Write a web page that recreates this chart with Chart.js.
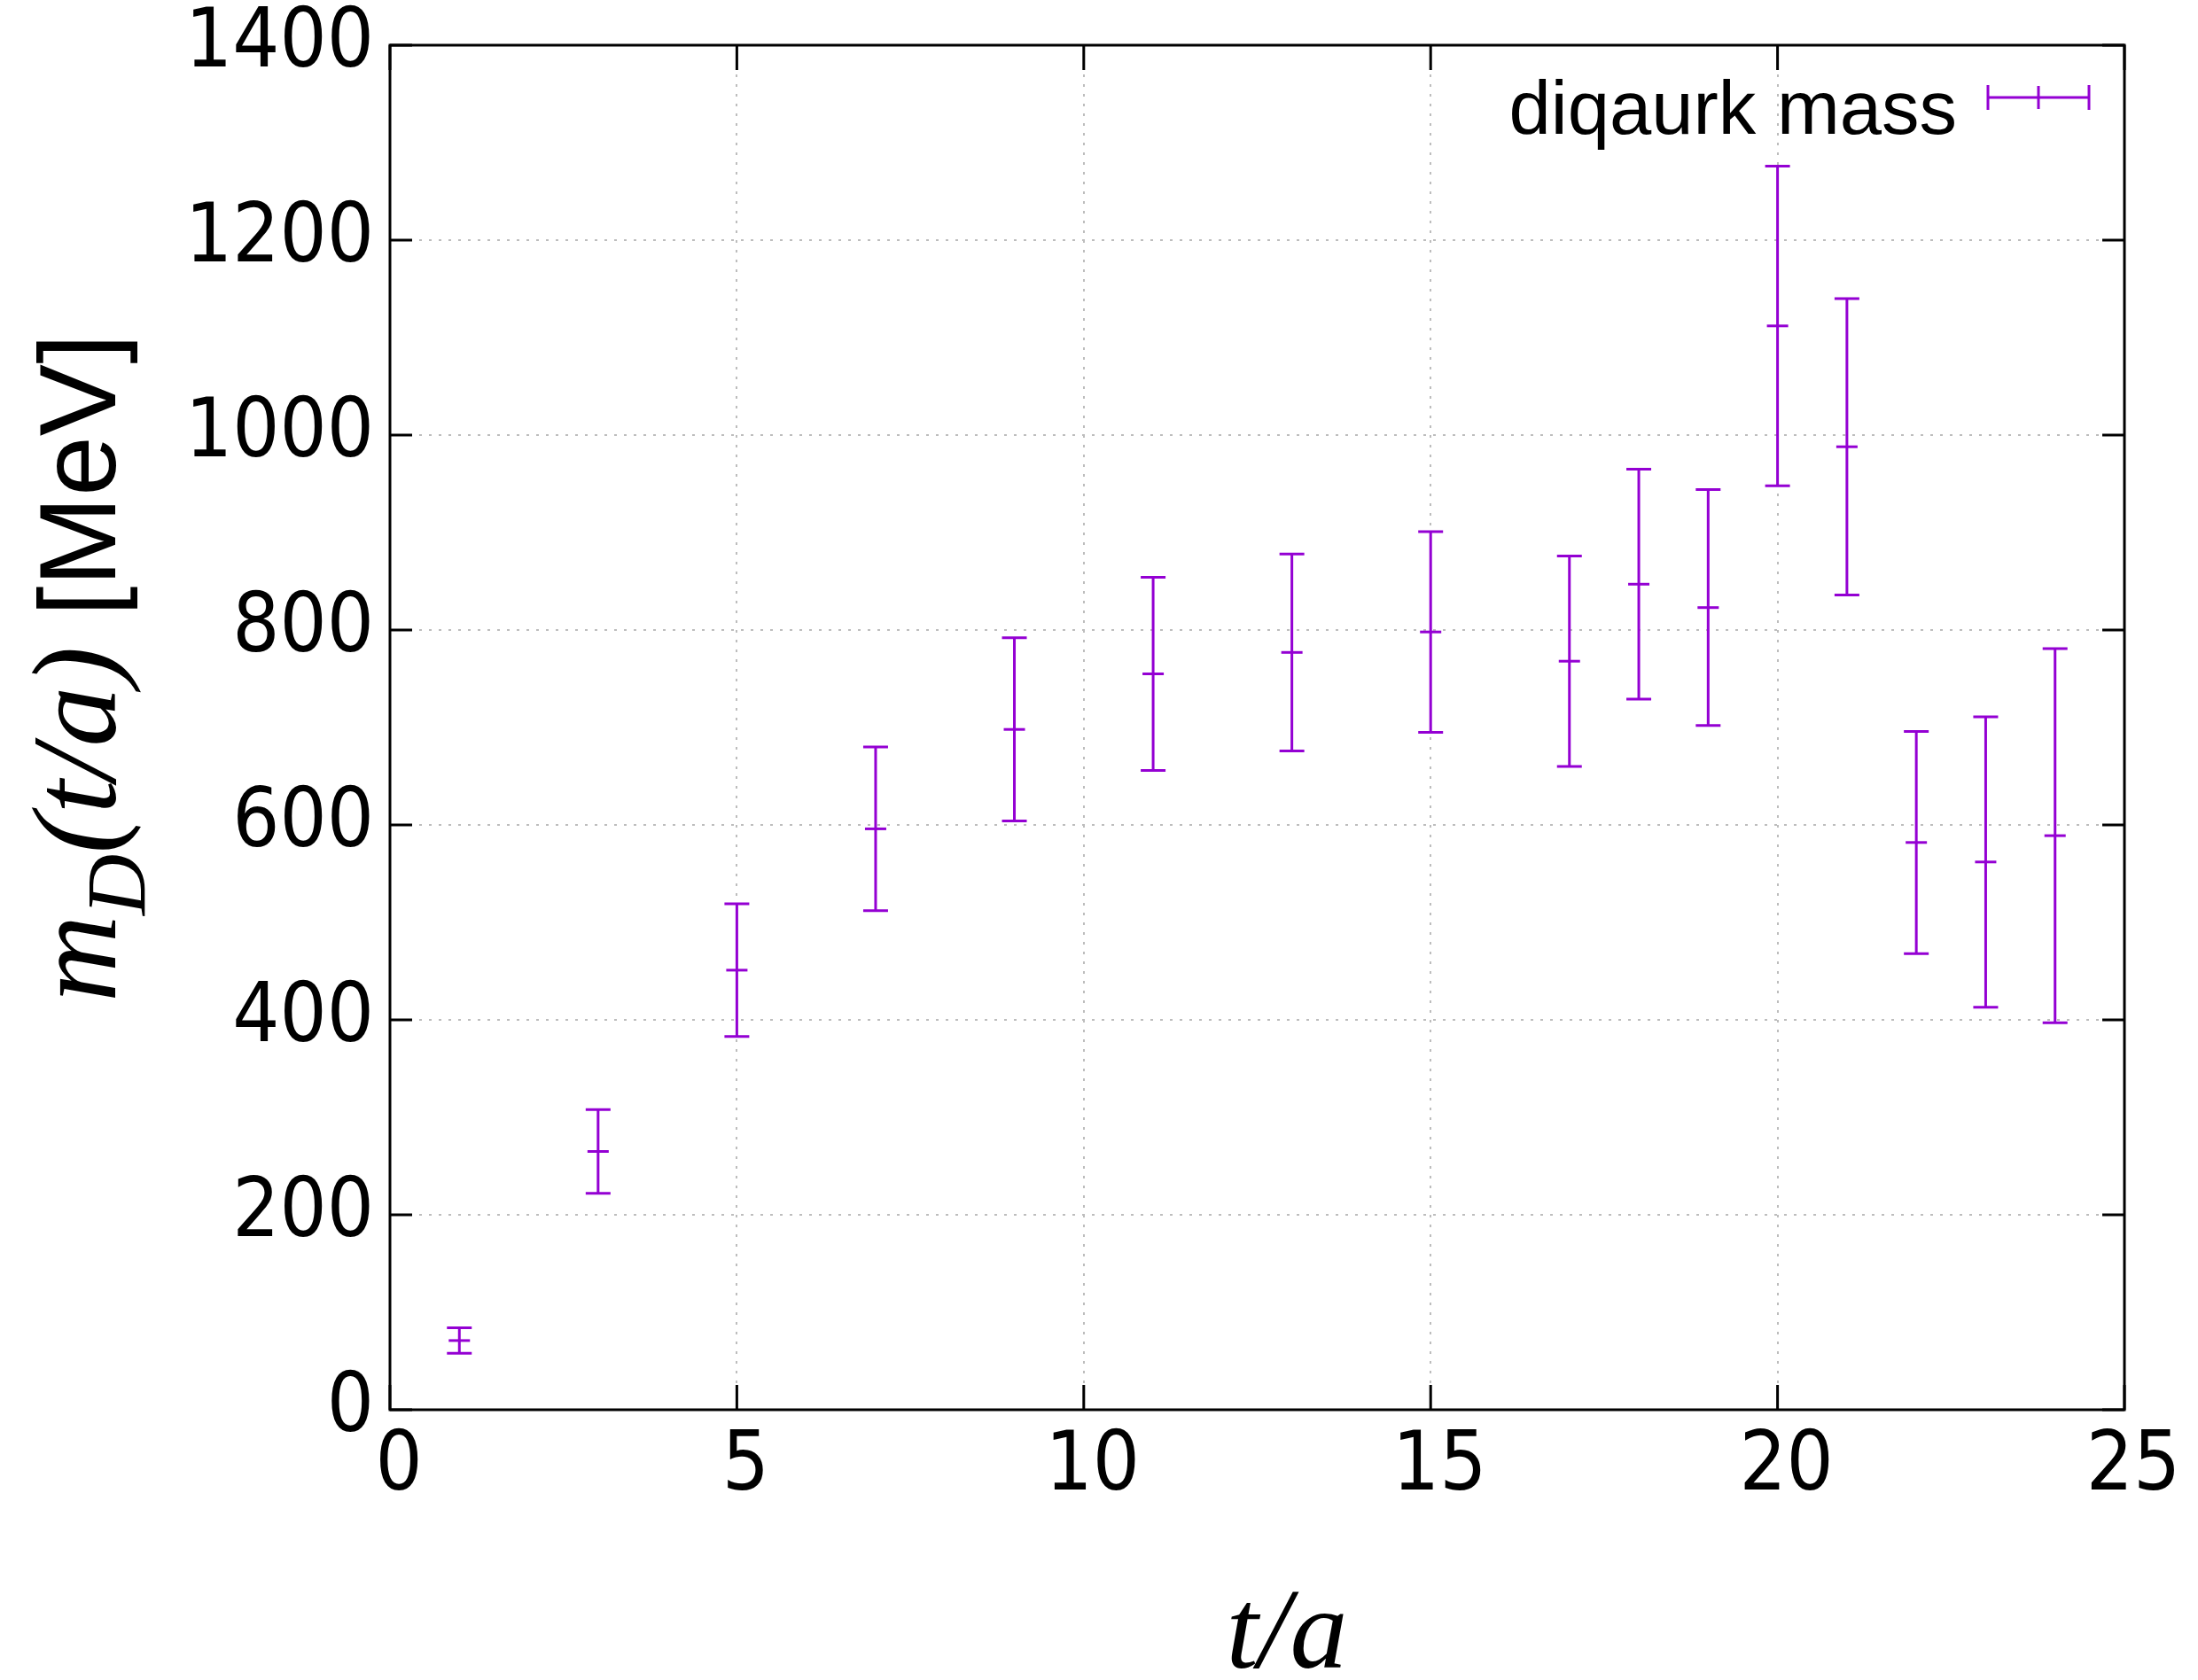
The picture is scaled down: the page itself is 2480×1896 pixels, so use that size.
<!DOCTYPE html>
<html>
<head>
<meta charset="utf-8">
<script src="https://cdn.jsdelivr.net/npm/chart.js@4.4.1/dist/chart.umd.min.js"></script>
<style>
html, body { margin: 0; padding: 0; background: #fff; }
#wrap { width: 2480px; height: 1896px; }
</style>
</head>
<body>
<div id="wrap"><canvas id="massChart" width="2480" height="1896"></canvas></div>
<script>
// values
const tValues = [1, 3, 5, 7, 9, 11, 13, 15, 17, 18, 19, 20, 21, 22, 23, 24];
const massValues = [71, 265, 451, 596, 698, 755, 777, 798, 768, 847, 823, 1112, 988, 582, 562, 589];
const massErrors = [13, 43, 68, 84, 94, 99, 101, 103, 108, 118, 121, 164, 152, 114, 149, 192];
const xTicks = [0, 5, 10, 15, 20, 25];
const yTicks = [0, 200, 400, 600, 800, 1000, 1200, 1400];
const seriesLabel = 'diqaurk mass';

const purple = '#9400d3';
const tickFont = "'DejaVu Sans Condensed', 'DejaVu Sans', sans-serif";
const sansFont = "'Liberation Sans', Arial, sans-serif";
const serifFont = "'Liberation Serif', 'Times New Roman', serif";

// error bars with caps, drawn through the chart's scales
const errorBars = {
    id: 'errorBars',
    afterDatasetsDraw(chart) {
        const ctx = chart.ctx;
        const xs = chart.scales.x, ys = chart.scales.y;
        const cap = 14;
        ctx.save();
        ctx.strokeStyle = purple;
        ctx.lineWidth = 3;
        tValues.forEach((t, i) => {
            const px = xs.getPixelForValue(t);
            const hi = ys.getPixelForValue(massValues[i] + massErrors[i]);
            const lo = ys.getPixelForValue(massValues[i] - massErrors[i]);
            ctx.beginPath();
            ctx.moveTo(px, hi); ctx.lineTo(px, lo);
            ctx.moveTo(px - cap, hi); ctx.lineTo(px + cap, hi);
            ctx.moveTo(px - cap, lo); ctx.lineTo(px + cap, lo);
            ctx.stroke();
        });
        ctx.restore();
    }
};

// gnuplot style frame: border, inward ticks, key and axis titles
const frame = {
    id: 'frame',
    afterDraw(chart) {
        const ctx = chart.ctx;
        const a = chart.chartArea;
        const xs = chart.scales.x, ys = chart.scales.y;
        ctx.save();
        ctx.strokeStyle = '#000';
        ctx.lineWidth = 3;
        ctx.beginPath();
        xTicks.forEach(v => {
            const px = xs.getPixelForValue(v);
            ctx.moveTo(px, a.bottom); ctx.lineTo(px, a.bottom - 28);
            ctx.moveTo(px, a.top); ctx.lineTo(px, a.top + 28);
        });
        yTicks.forEach(v => {
            const py = ys.getPixelForValue(v);
            ctx.moveTo(a.left, py); ctx.lineTo(a.left + 25, py);
            ctx.moveTo(a.right, py); ctx.lineTo(a.right - 25, py);
        });
        ctx.stroke();
        ctx.strokeRect(a.left, a.top, a.right - a.left, a.bottom - a.top);

        // key
        ctx.fillStyle = '#000';
        ctx.font = '85px ' + sansFont;
        ctx.textAlign = 'right';
        ctx.textBaseline = 'alphabetic';
        ctx.fillText(seriesLabel, 2208, 151);
        ctx.strokeStyle = purple;
        ctx.beginPath();
        ctx.moveTo(2243, 110); ctx.lineTo(2357, 110);
        ctx.moveTo(2243, 96); ctx.lineTo(2243, 124);
        ctx.moveTo(2357, 96); ctx.lineTo(2357, 124);
        ctx.moveTo(2300, 97); ctx.lineTo(2300, 123);
        ctx.stroke();

        // x title
        ctx.fillStyle = '#000';
        ctx.font = 'italic 130px ' + serifFont;
        ctx.textAlign = 'center';
        ctx.fillText('t/a', 1452, 1882);

        // y title, mixed fonts, rotated
        const parts = [
            { text: 'm', font: 'italic 136px ' + serifFont, dy: 0 },
            { text: 'D', font: 'italic 96px ' + serifFont, dy: 34 },
            { text: '(t/a)', font: 'italic 136px ' + serifFont, dy: 0 },
            { text: ' [MeV]', font: '122px ' + sansFont, dy: 0 }
        ];
        let total = 0;
        parts.forEach(p => { ctx.font = p.font; p.w = ctx.measureText(p.text).width; total += p.w; });
        ctx.translate(130, 754);
        ctx.rotate(-Math.PI / 2);
        ctx.textAlign = 'left';
        let cx = -total / 2;
        parts.forEach(p => {
            ctx.font = p.font;
            ctx.fillText(p.text, cx, p.dy);
            cx += p.w;
        });
        ctx.restore();
    }
};

const ctx = document.getElementById('massChart').getContext('2d');

const massChart = new Chart(ctx, {
    type: 'scatter',
    data: {
        datasets: [{
            label: seriesLabel,
            data: tValues.map((t, i) => ({ x: t, y: massValues[i] })),
            borderColor: purple,
            backgroundColor: purple,
            borderWidth: 3,
            pointStyle: 'line',
            pointRadius: 12,
            showLine: false
        }]
    },
    options: {
        responsive: false,
        animation: false,
        devicePixelRatio: 1,
        layout: { padding: { left: 0, right: 83, top: 51, bottom: 0 } },
        scales: {
            x: {
                type: 'linear',
                min: 0,
                max: 25,
                afterBuildTicks: scale => { scale.ticks = xTicks.map(v => ({ value: v })); },
                afterFit: scale => {
                    scale.height = 305;
                    scale.paddingLeft = 0;
                    scale.paddingRight = 0;
                },
                ticks: {
                    color: '#000',
                    font: { family: tickFont, size: 93 },
                    padding: 10,
                    labelOffset: 10,
                    maxRotation: 0,
                    autoSkip: false,
                    callback: v => String(v)
                },
                grid: { color: '#bdbdbd', lineWidth: 2, drawTicks: false },
                border: { display: false, dash: [3, 8] }
            },
            y: {
                min: 0,
                max: 1400,
                afterBuildTicks: scale => { scale.ticks = yTicks.map(v => ({ value: v })); },
                afterFit: scale => {
                    scale.width = 440;
                    scale.paddingTop = 0;
                    scale.paddingBottom = 0;
                },
                ticks: {
                    color: '#000',
                    font: { family: tickFont, size: 93 },
                    padding: 18,
                    autoSkip: false,
                    callback: v => String(v)
                },
                grid: { color: '#bdbdbd', lineWidth: 2, drawTicks: false },
                border: { display: false, dash: [3, 8] }
            }
        },
        plugins: {
            legend: { display: false },
            tooltip: { enabled: false }
        }
    },
    plugins: [errorBars, frame]
});
</script>
</body>
</html>
